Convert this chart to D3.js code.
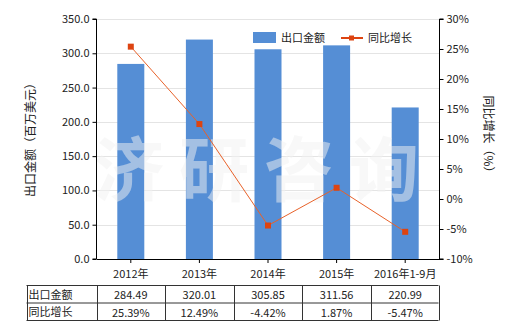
<!DOCTYPE html>
<html>
<head>
<meta charset="utf-8">
<script src="https://cdn.jsdelivr.net/npm/d3@7"></script>
<style>
  body { margin: 0; background: #fff; }
  svg text { font-family: "Noto Sans CJK SC", "Noto Sans", sans-serif; fill: #222; }
</style>
</head>
<body>
<div id="chart"></div>
<script>
const categories = ["2012年", "2013年", "2014年", "2015年", "2016年1-9月"];
const exportValues = [284.49, 320.01, 305.85, 311.56, 220.99];
const growthValues = [25.39, 12.49, -4.42, 1.87, -5.47];
const leftTicks = [0, 50, 100, 150, 200, 250, 300, 350];
const rightTicks = [-10, -5, 0, 5, 10, 15, 20, 25, 30];
const rowNames = ["出口金额", "同比增长"];
const watermark = ["济", "研", "咨", "询"];

const W = 520, H = 330;
const plotL = 96.5, plotR = 439.5, plotT = 19, plotB = 259;

const svg = d3.select("#chart").append("svg")
    .attr("width", W)
    .attr("height", H);

const x = d3.scaleBand().domain(categories).range([plotL, plotR]);
const yL = d3.scaleLinear().domain([0, 350]).range([plotB, plotT]);
const yR = d3.scaleLinear().domain([-10, 30]).range([plotB, plotT]);

// grid lines
svg.append("g")
    .selectAll("line")
    .data(leftTicks.slice(1))
    .enter().append("line")
    .attr("x1", plotL).attr("x2", plotR)
    .attr("y1", d => Math.round(yL(d)) + 0.5)
    .attr("y2", d => Math.round(yL(d)) + 0.5)
    .attr("stroke", "#e4e4e4");

// bars
const barW = 27;
svg.append("g")
    .selectAll("rect")
    .data(exportValues)
    .enter().append("rect")
    .attr("x", (d, i) => x(categories[i]) + x.bandwidth() / 2 - barW / 2)
    .attr("y", d => yL(d))
    .attr("width", barW)
    .attr("height", d => plotB - yL(d))
    .attr("fill", "#558ed5");

// watermark
svg.append("g")
    .selectAll("text")
    .data(watermark)
    .enter().append("text")
    .attr("x", (d, i) => 129 + i * 85)
    .attr("y", 196)
    .attr("text-anchor", "middle")
    .style("font-size", "70px")
    .style("font-weight", "bold")
    .style("fill", "#f2f2f2")
    .style("opacity", 0.5)
    .text(d => d);

// line
const line = d3.line()
    .x((d, i) => x(categories[i]) + x.bandwidth() / 2)
    .y(d => yR(d));

svg.append("path")
    .datum(growthValues)
    .attr("d", line)
    .attr("fill", "none")
    .attr("stroke", "#e8622a")
    .attr("stroke-width", 1);

svg.append("g")
    .selectAll("rect")
    .data(growthValues)
    .enter().append("rect")
    .attr("x", (d, i) => x(categories[i]) + x.bandwidth() / 2 - 3)
    .attr("y", d => yR(d) - 3)
    .attr("width", 6)
    .attr("height", 6)
    .attr("fill", "#dd4411");

// axes
const axisL = svg.append("g")
    .attr("transform", `translate(${plotL},0)`)
    .call(d3.axisLeft(yL).tickValues(leftTicks).tickFormat(d3.format(".1f")).tickSize(4));

const axisR = svg.append("g")
    .attr("transform", `translate(${plotR},0)`)
    .call(d3.axisRight(yR).tickValues(rightTicks).tickFormat(d => d + "%").tickSize(4));

const axisX = svg.append("g")
    .attr("transform", `translate(0,${plotB})`)
    .call(d3.axisBottom(x).tickSize(4).tickSizeOuter(0));

[axisL, axisR, axisX].forEach(g => {
    g.selectAll("path, line").attr("stroke", "#000");
    g.selectAll("text").style("font-size", "11px").style("fill", "#222");
});
axisX.selectAll("text").attr("dy", "1.1em");
axisR.select(".domain").attr("d", `M4,${plotT}H0V${plotB}H4`);
axisL.select(".domain").attr("d", `M-4,${plotT}H0V${plotB}H-4`);

// axis titles
svg.append("text")
    .attr("transform", `translate(35,137) rotate(-90)`)
    .attr("text-anchor", "middle")
    .style("font-size", "12px")
    .text("出口金额（百万美元）");

svg.append("text")
    .attr("transform", `translate(484,137) rotate(90)`)
    .attr("text-anchor", "middle")
    .style("font-size", "12px")
    .text("同比增长（%）");

// legend
svg.append("rect")
    .attr("x", 253).attr("y", 32)
    .attr("width", 23).attr("height", 11)
    .attr("fill", "#558ed5");
svg.append("text")
    .attr("x", 281).attr("y", 42)
    .style("font-size", "11px")
    .text("出口金额");
svg.append("line")
    .attr("x1", 341).attr("x2", 363)
    .attr("y1", 38).attr("y2", 38)
    .attr("stroke", "#dd4411").attr("stroke-width", 2);
svg.append("rect")
    .attr("x", 349).attr("y", 35.5)
    .attr("width", 5).attr("height", 5)
    .attr("fill", "#dd4411");
svg.append("text")
    .attr("x", 368).attr("y", 42)
    .style("font-size", "11px")
    .text("同比增长");

// data table
const tLeft = 26.5, tTop = 285.5, rowH = 17.5;
const tRight = plotR - 1;
const table = svg.append("g");
const cols = [tLeft, plotL].concat(categories.map(c => x(c) + x.bandwidth()));
cols[cols.length - 1] = tRight;

[0, 1, 2].forEach(r => {
    table.append("line")
        .attr("x1", tLeft).attr("x2", tRight)
        .attr("y1", tTop + r * rowH).attr("y2", tTop + r * rowH)
        .attr("stroke", "#333");
});
cols.forEach(cx => {
    table.append("line")
        .attr("x1", Math.round(cx) + 0.5).attr("x2", Math.round(cx) + 0.5)
        .attr("y1", tTop).attr("y2", tTop + 2 * rowH)
        .attr("stroke", "#333");
});

const rows = [
    exportValues.map(d => d.toFixed(2)),
    growthValues.map(d => d.toFixed(2) + "%")
];
rows.forEach((vals, r) => {
    table.append("text")
        .attr("x", tLeft + 2)
        .attr("y", tTop + r * rowH + 13)
        .style("font-size", "11px")
        .text(rowNames[r]);
    table.selectAll(null)
        .data(vals)
        .enter().append("text")
        .attr("x", (d, i) => x(categories[i]) + x.bandwidth() / 2)
        .attr("y", tTop + r * rowH + 13.5)
        .attr("text-anchor", "middle")
        .style("font-size", "11px")
        .text(d => d);
});
</script>
</body>
</html>
